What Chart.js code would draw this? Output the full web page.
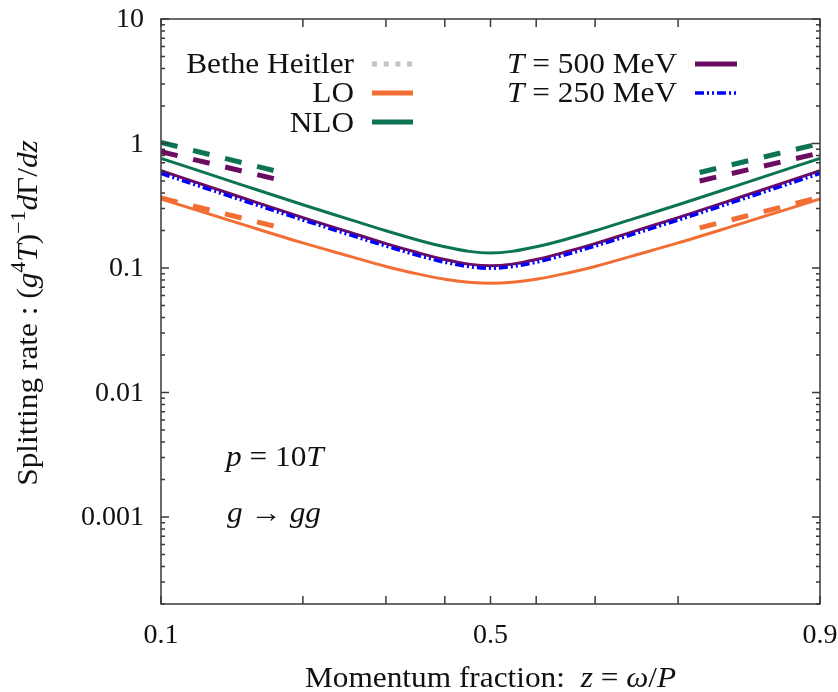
<!DOCTYPE html>
<html>
<head>
<meta charset="utf-8">
<script src="https://cdn.jsdelivr.net/npm/chart.js@4.4.1/dist/chart.umd.min.js"></script>
<style>
  html, body { margin: 0; padding: 0; background: #ffffff; }
  canvas { display: block; }
</style>
</head>
<body>
<canvas id="rate" width="838" height="692"></canvas>
<script>
// Momentum fraction z at which the splitting rates are sampled
const zGrid = [0.1, 0.15, 0.2, 0.25, 0.3, 0.35, 0.4, 0.45, 0.5, 0.55, 0.6, 0.65, 0.7, 0.75, 0.8, 0.85, 0.9];

// Splitting rate (g^4 T)^-1 dGamma/dz, g -> gg, p = 10T
const nloRate  = [0.76, 0.459, 0.322, 0.247, 0.199, 0.168, 0.148, 0.136, 0.132, 0.136, 0.148, 0.168, 0.199, 0.247, 0.322, 0.459, 0.76];
const t500Rate = [0.605, 0.363, 0.254, 0.195, 0.157, 0.133, 0.117, 0.1074, 0.1042, 0.1074, 0.117, 0.133, 0.157, 0.195, 0.254, 0.363, 0.605];
const t250Rate = [0.575, 0.346, 0.243, 0.186, 0.150, 0.1265, 0.1112, 0.1026, 0.0995, 0.1026, 0.1112, 0.1265, 0.150, 0.186, 0.243, 0.346, 0.575];
const loRate   = [0.358, 0.222, 0.159, 0.125, 0.1028, 0.0897, 0.0811, 0.0767, 0.0753, 0.0767, 0.0811, 0.0897, 0.1028, 0.125, 0.159, 0.222, 0.358];

// Endpoint asymptotes (thick dashed segments)
const edgeZ        = [0.1, 0.18, 0.82, 0.9];
const nloEdgeRate  = [1.02, 0.585, 0.585, 1.0];
const t500EdgeRate = [0.86, 0.505, 0.50, 0.84];
const loEdgeRate   = [0.365, 0.21, 0.21, 0.37];

// Axis ticks
const xTickValues = [0.1, 0.2, 0.3, 0.4, 0.5, 0.6, 0.7, 0.8, 0.9];
const xTickLabels = ['0.1', '', '', '', '0.5', '', '', '', '0.9'];
const yMajorValues = [10, 1, 0.1, 0.01, 0.001];
const yTickLabels  = ['10', '1', '0.1', '0.01', '0.001'];
const yRange = [0.0002, 10];

const COLORS = {
  nlo: '#0d7355',
  t500: '#6b0c62',
  t250: '#0000ff',
  lo: '#f26e34',
  bh: '#c4c4c4',
  frame: '#3a3a3a',
  text: '#111111'
};
const FONT = '"Liberation Serif", "DejaVu Serif", serif';
const TEXT_SIZE = 29;
const TEXT_STRETCH = 1.08;

// x axis: log(z) below z = 1/2, mirrored -log(1-z) above it
const LOG_HALF = Math.log10(0.5);
function zToU(z) { return z <= 0.5 ? Math.log10(z) : 2 * LOG_HALF - Math.log10(1 - z); }
function uToZ(u) { return u <= LOG_HALF ? Math.pow(10, u) : 1 - Math.pow(10, 2 * LOG_HALF - u); }

class MirroredLogScale extends Chart.LinearScale {
  configure() {
    super.configure();
    this._uStart = zToU(this.min);
    this._uEnd = zToU(this.max);
  }
  buildTicks() {
    return xTickValues.map(v => ({ value: v }));
  }
  getPixelForValue(v) {
    return this.getPixelForDecimal((zToU(v) - this._uStart) / (this._uEnd - this._uStart));
  }
  getValueForPixel(p) {
    return uToZ(this._uStart + this.getDecimalForPixel(p) * (this._uEnd - this._uStart));
  }
}
MirroredLogScale.id = 'mirroredLog';
MirroredLogScale.defaults = Chart.LinearScale.defaults;
Chart.register(MirroredLogScale);

const toPoints = (xs, ys) => xs.map((x, i) => ({ x, y: ys[i] }));
// split the endpoint segments so the dashed line breaks in the middle
const edgePoints = ys => [
  { x: edgeZ[0], y: ys[0] }, { x: edgeZ[1], y: ys[1] },
  { x: 0.5, y: null },
  { x: edgeZ[2], y: ys[2] }, { x: edgeZ[3], y: ys[3] }
];

// ---- rich text helpers (roman / italic / superscript runs) ----
function runFont(style, size) {
  const s = style.startsWith('sup') ? size * 0.7 : size;
  const it = style.endsWith('i') ? 'italic ' : '';
  return it + s + 'px ' + FONT;
}
function runWidth(ctx, parts, size) {
  let w = 0;
  for (const [t, st] of parts) { ctx.font = runFont(st, size); w += ctx.measureText(t).width; }
  return w;
}
function drawRich(ctx, parts, x, y, align, size = TEXT_SIZE, stretch = TEXT_STRETCH) {
  const w = runWidth(ctx, parts, size) * stretch;
  const x0 = align === 'right' ? x - w : align === 'center' ? x - w / 2 : x;
  ctx.save();
  ctx.translate(x0, y);
  ctx.scale(stretch, 1);
  ctx.textAlign = 'left';
  ctx.textBaseline = 'alphabetic';
  let cx = 0;
  for (const [t, st] of parts) {
    ctx.font = runFont(st, size);
    const dy = st.startsWith('sup') ? -size * 0.4 : 0;
    ctx.fillText(t, cx, dy);
    cx += ctx.measureText(t).width;
  }
  ctx.restore();
}

function sample(ctx, x0, x1, y, color, width, dash) {
  ctx.save();
  ctx.strokeStyle = color;
  ctx.lineWidth = width;
  ctx.setLineDash(dash || []);
  ctx.lineCap = 'butt';
  ctx.beginPath();
  ctx.moveTo(x0, y);
  ctx.lineTo(x1, y);
  ctx.stroke();
  ctx.restore();
}

const decorations = {
  id: 'decorations',
  afterDatasetsDraw(chart) {
    const { ctx, chartArea: a, scales: { x, y } } = chart;
    ctx.save();

    // frame
    ctx.strokeStyle = COLORS.frame;
    ctx.lineWidth = 1.5;
    ctx.strokeRect(a.left, a.top, a.right - a.left, a.bottom - a.top);

    // inward ticks on all four sides
    ctx.beginPath();
    xTickValues.forEach(v => {
      const px = x.getPixelForValue(v);
      ctx.moveTo(px, a.bottom); ctx.lineTo(px, a.bottom - 8);
      ctx.moveTo(px, a.top); ctx.lineTo(px, a.top + 8);
    });
    for (let e = -4; e <= 1; e++) {
      for (let k = 1; k <= 9; k++) {
        const v = k * Math.pow(10, e);
        if (v < yRange[0] * 0.999 || v > yRange[1] * 1.001) continue;
        const py = y.getPixelForValue(v);
        const len = k === 1 ? 8 : 4;
        ctx.moveTo(a.left, py); ctx.lineTo(a.left + len, py);
        ctx.moveTo(a.right, py); ctx.lineTo(a.right - len, py);
      }
    }
    ctx.stroke();

    // tick labels
    ctx.fillStyle = COLORS.text;
    ctx.font = '28px ' + FONT;
    ctx.textAlign = 'right';
    ctx.textBaseline = 'middle';
    yMajorValues.forEach((v, i) => {
      ctx.fillText(yTickLabels[i], a.left - 17, y.getPixelForValue(v) + 1);
    });
    ctx.textAlign = 'center';
    ctx.textBaseline = 'alphabetic';
    xTickValues.forEach((v, i) => {
      if (xTickLabels[i]) ctx.fillText(xTickLabels[i], x.getPixelForValue(v), a.bottom + 39);
    });

    // axis titles
    drawRich(ctx, [['Momentum fraction:  ', 'r'], ['z', 'i'], [' = ', 'r'], ['ω', 'i'], ['/', 'r'], ['P', 'i']],
      (a.left + a.right) / 2, 687, 'center');
    ctx.save();
    ctx.translate(37, 313);
    ctx.rotate(-Math.PI / 2);
    drawRich(ctx, [['Splitting rate : (', 'r'], ['g', 'i'], ['4', 'sup'], ['T', 'i'], [')', 'r'], ['−1', 'sup'],
      ['d', 'i'], ['Γ', 'r'], ['/', 'r'], ['d', 'i'], ['z', 'i']], 0, 0, 'center');
    ctx.restore();

    // annotations
    drawRich(ctx, [['p', 'i'], [' = 10', 'r'], ['T', 'i']], 226, 466, 'left');
    drawRich(ctx, [['g', 'i'], [' → ', 'r'], ['gg', 'i']], 227, 522, 'left');

    // legend, left block
    drawRich(ctx, [['Bethe Heitler', 'r']], 354, 73, 'right');
    drawRich(ctx, [['LO', 'r']], 354, 102, 'right');
    drawRich(ctx, [['NLO', 'r']], 354, 132, 'right');
    sample(ctx, 372, 413, 64, COLORS.bh, 5, [5, 6.7]);
    sample(ctx, 372, 413, 93, COLORS.lo, 5);
    sample(ctx, 372, 413, 122, COLORS.nlo, 5);

    // legend, right block
    drawRich(ctx, [['T', 'i'], [' = 500 MeV', 'r']], 677, 73, 'right');
    drawRich(ctx, [['T', 'i'], [' = 250 MeV', 'r']], 677, 102, 'right');
    sample(ctx, 695, 737, 64, COLORS.t500, 5);
    sample(ctx, 695, 737, 93, COLORS.t250, 3.5, [9, 3, 2, 3, 2, 3]);

    ctx.restore();
  }
};

const curve = (data, color, width, dash) => ({
  data, borderColor: color, borderWidth: width, borderDash: dash || [],
  pointRadius: 0, fill: false, cubicInterpolationMode: 'monotone', spanGaps: false
});

new Chart(document.getElementById('rate'), {
  type: 'line',
  data: {
    datasets: [
      curve(toPoints(zGrid, t250Rate), COLORS.t250, 3.5, [9, 3, 2, 3, 2, 3]),
      curve(toPoints(zGrid, t500Rate), COLORS.t500, 3),
      curve(toPoints(zGrid, nloRate), COLORS.nlo, 3),
      curve(toPoints(zGrid, loRate), COLORS.lo, 3),
      curve(edgePoints(nloEdgeRate), COLORS.nlo, 5, [17, 16]),
      curve(edgePoints(t500EdgeRate), COLORS.t500, 5, [17, 16]),
      curve(edgePoints(loEdgeRate), COLORS.lo, 5, [17, 16])
    ]
  },
  options: {
    responsive: false,
    animation: false,
    events: [],
    layout: { padding: { left: 161, right: 18, top: 19, bottom: 88 } },
    plugins: { legend: { display: false }, tooltip: { enabled: false } },
    scales: {
      x: { type: 'mirroredLog', min: 0.1, max: 0.9, display: false },
      y: { type: 'logarithmic', min: yRange[0], max: yRange[1], display: false }
    }
  },
  plugins: [decorations]
});
</script>
</body>
</html>
